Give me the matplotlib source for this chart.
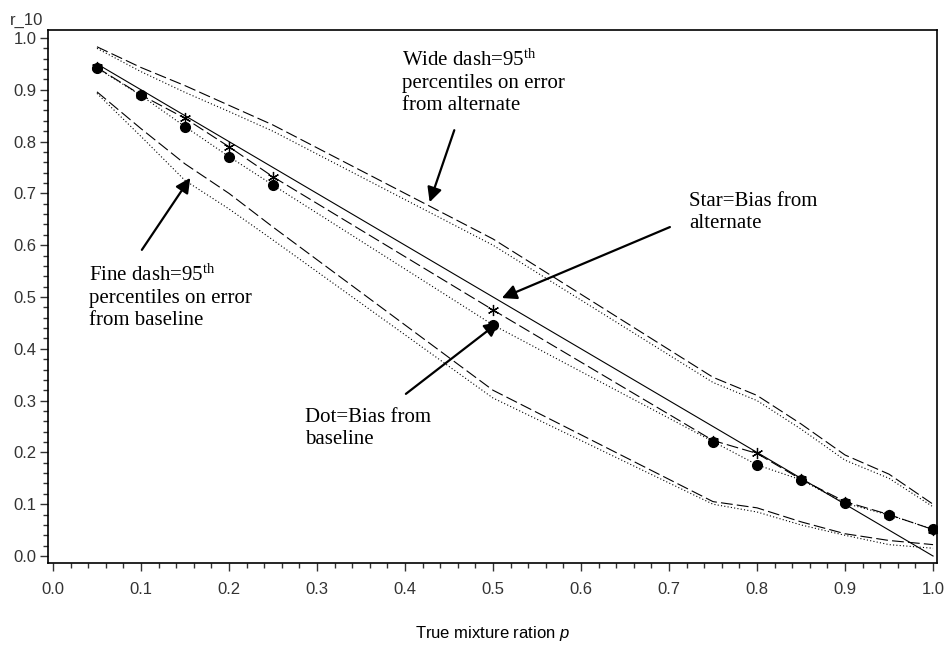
import matplotlib.pyplot as plt
import numpy as np

plt.rcParams['font.family'] = ['Liberation Sans', 'DejaVu Sans']
plt.rcParams['mathtext.fontset'] = 'custom'
plt.rcParams['mathtext.rm'] = 'Liberation Serif'
plt.rcParams['mathtext.it'] = 'Liberation Sans:italic'
plt.rcParams['lines.scale_dashes'] = False

# true mixture ratio p and the estimates of r_10
p = [0.05, 0.10, 0.15, 0.20, 0.25, 0.50, 0.75, 0.80, 0.85, 0.90, 0.95, 1.00]
base_bias = [0.942, 0.889, 0.829, 0.771, 0.716, 0.446, 0.221, 0.176, 0.147, 0.102, 0.079, 0.052]
alt_bias = [0.943, 0.890, 0.845, 0.790, 0.732, 0.475, 0.223, 0.198, 0.148, 0.105, 0.080, 0.051]
alt_upper = [0.983, 0.943, 0.908, 0.870, 0.832, 0.612, 0.345, 0.310, 0.255, 0.195, 0.158, 0.100]
base_upper = [0.980, 0.935, 0.895, 0.858, 0.820, 0.600, 0.335, 0.300, 0.245, 0.185, 0.150, 0.095]
alt_lower = [0.896, 0.825, 0.757, 0.700, 0.635, 0.320, 0.105, 0.093, 0.066, 0.043, 0.030, 0.022]
base_lower = [0.893, 0.810, 0.725, 0.670, 0.610, 0.305, 0.100, 0.085, 0.060, 0.040, 0.022, 0.015]
true_p = [0.05, 1.00]
true_r = [0.95, 0.00]

wide = (8.5, 3.0)
fine = (0.8, 1.6)

fig = plt.figure(figsize=(9.44, 6.45), dpi=100)
ax = fig.add_axes([0.0508, 0.1271, 0.9418, 0.8264])

ax.plot(true_p, true_r, color='black', lw=0.8)
ax.plot(p, alt_upper, color='black', lw=0.8, dashes=wide)
ax.plot(p, base_upper, color='black', lw=0.8, dashes=fine)
ax.plot(p, alt_lower, color='black', lw=0.8, dashes=wide)
ax.plot(p, base_lower, color='black', lw=0.8, dashes=fine)
ax.plot(p, alt_bias, color='black', lw=0.8, dashes=wide)
ax.plot(p, base_bias, color='black', lw=0.8, dashes=fine)
ax.plot(p, alt_bias, ls='none', marker=(6, 2, 0), ms=8, mew=0.9, color='black', zorder=3)
ax.plot(p, base_bias, ls='none', marker='o', ms=7, color='black', zorder=4)

ax.set_xlim(-0.0057, 1.0045)
ax.set_ylim(-0.0135, 1.0154)
ax.set_xticks(np.arange(0, 1.01, 0.1))
ax.set_yticks(np.arange(0, 1.01, 0.1))
ax.set_xticks(np.arange(0, 1.001, 0.02), minor=True)
ax.set_yticks(np.arange(0, 1.001, 0.02), minor=True)
ax.xaxis.set_major_formatter(plt.FormatStrFormatter('%.1f'))
ax.yaxis.set_major_formatter(plt.FormatStrFormatter('%.1f'))
ax.tick_params(which='major', length=6, width=1, labelsize=12, colors='#333333', pad=2)
ax.tick_params(which='minor', length=3.5, width=1, colors='#333333')
ax.tick_params(axis='x', which='major', pad=8)
for s in ax.spines.values():
    s.set_linewidth(1.2)

ax.set_xlabel('True mixture ration $p$', fontsize=12, labelpad=19)
fig.text(0.010, 0.969, 'r_10', fontsize=12, color='#333333', va='center')

note = dict(fontsize=15, family='Liberation Serif', linespacing=1.2, va='center', ha='left')
ax.text(0.3966, 0.915, 'Wide dash=95$^{\\mathrm{th}}$\npercentiles on error\nfrom alternate', **note)
ax.text(0.7227, 0.663, 'Star=Bias from\nalternate', **note)
ax.text(0.0409, 0.500, 'Fine dash=95$^{\\mathrm{th}}$\npercentiles on error\nfrom baseline', **note)
ax.text(0.2864, 0.246, 'Dot=Bias from\nbaseline', **note)

arrow = dict(arrowstyle='-|>', lw=1.6, color='black', mutation_scale=22, shrinkA=0, shrinkB=0)
ax.annotate('', xy=(0.428, 0.683), xytext=(0.456, 0.822), arrowprops=arrow)
ax.annotate('', xy=(0.510, 0.498), xytext=(0.701, 0.635), arrowprops=arrow)
ax.annotate('', xy=(0.156, 0.730), xytext=(0.101, 0.591), arrowprops=arrow)
ax.annotate('', xy=(0.507, 0.452), xytext=(0.401, 0.313), arrowprops=arrow)

fig.savefig('out.png', dpi=100)
